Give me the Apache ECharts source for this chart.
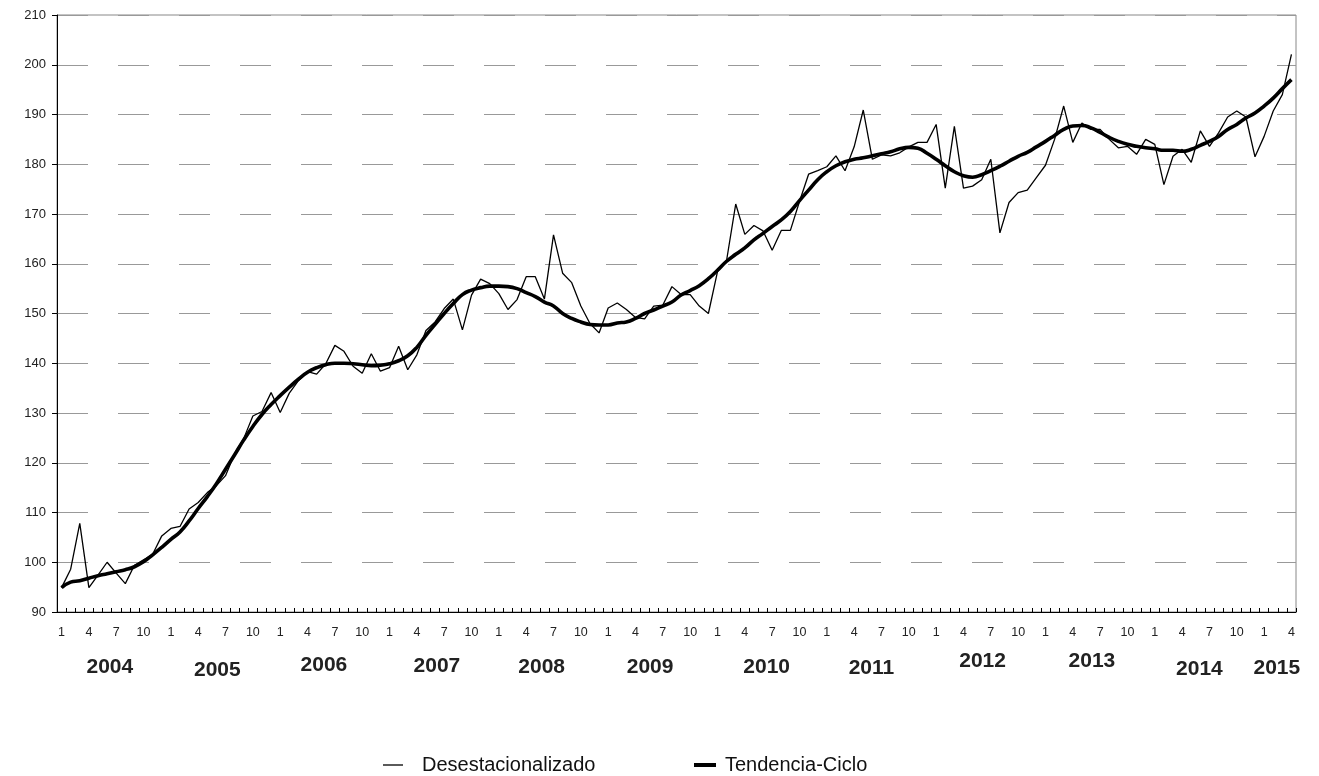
<!DOCTYPE html>
<html><head><meta charset="utf-8">
<script src="https://cdn.jsdelivr.net/npm/echarts@6/dist/echarts.min.js"></script>
<style>html,body{margin:0;padding:0;background:#fff}#c{width:1319px;height:776px}</style>
</head><body><div id="c"></div>
<script>
// ---- data ----
const years = ['2004','2005','2006','2007','2008','2009','2010','2011','2012','2013','2014','2015'];
const monthsInYear = [12,12,12,12,12,12,12,12,12,12,12,4];
const seriesNames = ['Desestacionalizado', 'Tendencia-Ciclo'];
const desestacionalizado = [
  94.9, 98.6, 107.8, 94.9, 97.4, 100, 97.8, 95.7, 99.4, 100.5, 101.6, 105.3,
  106.8, 107.2, 110.7, 112, 114, 115.4, 117.4, 121.8, 124.9, 129.4, 130.3, 134.1,
  130.1, 134, 136.5, 138.3, 137.8, 139.9, 143.6, 142.4, 139.4, 138, 141.9, 138.4,
  139.1, 143.4, 138.7, 141.7, 146.6, 148.3, 151, 152.9, 146.7, 153.7, 156.9, 156,
  154, 150.8, 152.8, 157.4, 157.4, 152.9, 165.8, 158.1, 156.2, 151.5, 148, 146.1,
  151.1, 152.1, 150.8, 149.2, 148.9, 151.5, 151.7, 155.4, 153.8, 153.8, 151.5, 150,
  158.4, 160.7, 172, 165.9, 167.7, 166.6, 162.7, 166.7, 166.7, 172.5, 178, 178.7,
  179.5, 181.7, 178.7, 183.5, 190.9, 181, 181.9, 181.7, 182.3, 183.5, 184.4, 184.4,
  188, 175.2, 187.6, 175.2, 175.6, 176.9, 181, 166.2, 172.3, 174.3, 174.8, 177.3,
  179.8, 185, 191.7, 184.4, 188.3, 187, 187, 185, 183.3, 183.6, 182, 185,
  184, 175.9, 181.6, 183, 180.4, 186.7, 183.6, 186.3, 189.5, 190.7, 189.5, 181.5,
  185.6, 190.7, 194, 202.1
];
const tendenciaCiclo = [
  94.9, 96, 96.3, 96.8, 97.3, 97.7, 98.1, 98.5, 99.1, 100.1, 101.5, 103,
  104.6, 106.1, 108.3, 110.8, 113.2, 115.8, 118.7, 121.6, 124.6, 127.3, 129.7, 131.7,
  133.5, 135.2, 136.8, 138.2, 139.1, 139.7, 140, 140, 139.9, 139.7, 139.5, 139.6,
  139.9, 140.5, 141.5, 143.2, 145.6, 147.8, 150, 152, 153.8, 154.7, 155.2, 155.5,
  155.5, 155.4, 155, 154.2, 153.4, 152.3, 151.5, 150, 149, 148.3, 147.8, 147.7,
  147.7, 148.1, 148.3, 149, 150, 150.7, 151.5, 152.3, 153.7, 154.6, 155.6, 157,
  158.7, 160.5, 161.9, 163.2, 164.8, 166.1, 167.5, 168.8, 170.5, 172.7, 174.8, 176.9,
  178.5, 179.7, 180.5, 181, 181.3, 181.7, 182.1, 182.5, 183.1, 183.4, 183.2, 182.2,
  181, 179.7, 178.5, 177.7, 177.4, 177.9, 178.7, 179.6, 180.6, 181.6, 182.4, 183.5,
  184.6, 185.8, 187, 187.7, 187.8, 187.3, 186.4, 185.4, 184.6, 184, 183.6, 183.3,
  183.1, 182.8, 182.8, 182.6, 183, 183.8, 184.6, 185.6, 187, 188, 189.3, 190.3,
  191.7, 193.3, 195.2, 197
];
const yMin = 90, yMax = 210, yStep = 10;

// categories (month numbers)
const categories = [];
years.forEach((y, i) => { for (let m = 1; m <= monthsInYear[i]; m++) categories.push(String(m)); });

// ---- layout (not data) ----
const yearLabelPos = [5.3, 17.1, 28.8, 41.2, 52.7, 64.6, 77.4, 88.9, 101.1, 113.1, 124.9, 133.4];
const yearLabelDy = [0, 3, -2, -1, 0, 0, 0, 1, -6, -6, 2, 1];
const FONT = '"Liberation Sans", Arial, sans-serif';

const chart = echarts.init(document.getElementById('c'), null, {renderer: 'canvas'});
chart.setOption({
  animation: false,
  backgroundColor: '#fff',
  grid: {left: 57, right: 23, top: 15, height: 597, show: true, borderColor: '#888', borderWidth: 1, containLabel: false},
  xAxis: {
    type: 'category', data: categories, boundaryGap: true,
    axisLine: {lineStyle: {color: '#000', width: 1}},
    axisTick: {show: true, inside: true, length: 4, interval: 0, lineStyle: {color: '#000'}},
    axisLabel: {interval: 2, color: '#222', fontFamily: FONT, fontSize: 12.5, margin: 14},
    splitLine: {show: false}
  },
  yAxis: {
    type: 'value', min: yMin, max: yMax, interval: yStep,
    axisLine: {show: true, lineStyle: {color: '#000', width: 1}},
    axisTick: {show: true, length: 5, lineStyle: {color: '#000'}},
    axisLabel: {color: '#222', fontFamily: FONT, fontSize: 13, margin: 11},
    splitLine: {show: true, lineStyle: {color: '#999', width: 1, type: [31, 30]}}
  },
  legend: [
    {data: [{name: seriesNames[0], icon: 'rect'}], left: 378, top: 750, itemWidth: 20, itemHeight: 1.3, itemGap: 0,
     itemStyle: {color: '#000'},
     textStyle: {fontFamily: FONT, fontSize: 20, color: '#111', padding: [0, 0, 0, 14]}},
    {data: [{name: seriesNames[1], icon: 'rect'}], left: 689, top: 750, itemWidth: 22, itemHeight: 4, itemGap: 0,
     itemStyle: {color: '#000'},
     textStyle: {fontFamily: FONT, fontSize: 20, color: '#111', padding: [0, 0, 0, 4]}}
  ],
  series: [
    {name: seriesNames[0], type: 'line', data: desestacionalizado, symbol: 'none', showSymbol: false, smooth: false,
     lineStyle: {color: '#000', width: 1.3}, itemStyle: {color: '#000'}, z: 3},
    {name: seriesNames[1], type: 'line', data: tendenciaCiclo, symbol: 'none', showSymbol: false, smooth: true,
     lineStyle: {color: '#000', width: 3.6}, itemStyle: {color: '#000'}, z: 2}
  ]
});

// Year labels under the month labels
const p0 = chart.convertToPixel({xAxisIndex: 0}, 0);
const p1 = chart.convertToPixel({xAxisIndex: 0}, 1);
const step = p1 - p0;
chart.setOption({
  graphic: years.map((y, i) => ({
    type: 'text',
    x: p0 + yearLabelPos[i] * step,
    y: 667 + yearLabelDy[i],
    style: {text: y, fill: '#222', font: 'bold 21px ' + FONT, textAlign: 'center', textVerticalAlign: 'middle'}
  }))
});
</script>
</body></html>
